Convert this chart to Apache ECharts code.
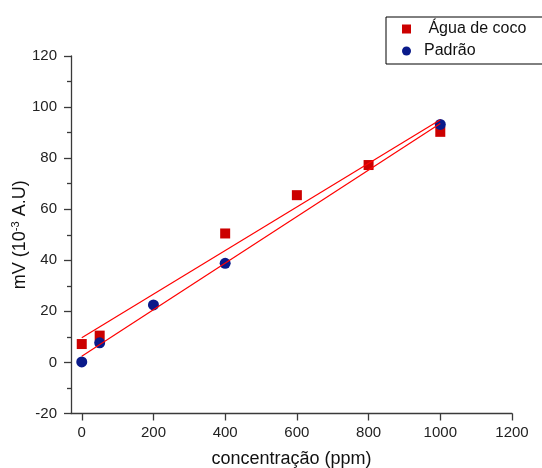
<!DOCTYPE html>
<html>
<head>
<meta charset="utf-8">
<script src="https://cdn.jsdelivr.net/npm/echarts@6/dist/echarts.min.js"></script>
<style>html,body{margin:0;padding:0;background:#fff}#c{width:542px;height:468px}</style>
</head>
<body>
<div id="c"></div>
<script>
// Data
const aguaX = [0, 50, 400, 600, 800, 1000];
const aguaY = [7.2, 10.5, 50.5, 65.5, 77.3, 90.3];
const padraoX = [0, 50, 200, 400, 1000];
const padraoY = [0.2, 7.7, 22.5, 38.8, 93.2];
const xTicks = [0, 200, 400, 600, 800, 1000, 1200];
const fitRange = [0, 1000];
const seriesNames = [' Água de coco', 'Padrão'];

function linFit(xs, ys) {
  const n = xs.length;
  const mx = xs.reduce((a, b) => a + b, 0) / n;
  const my = ys.reduce((a, b) => a + b, 0) / n;
  let sxx = 0, sxy = 0;
  for (let i = 0; i < n; i++) { sxx += (xs[i] - mx) ** 2; sxy += (xs[i] - mx) * (ys[i] - my); }
  const b = sxy / sxx, a = my - b * mx;
  return fitRange.map(x => [x, a + b * x]);
}
const zip = (xs, ys) => xs.map((x, i) => [x, ys[i]]);

const font = 'Liberation Sans, Arial, sans-serif';
const axisCol = '#3a3a3a';
const red = '#cc0000', navy = '#0a1a8a';
const chart = echarts.init(document.getElementById('c'), null, { renderer: 'canvas' });
chart.setOption({
  animation: false,
  backgroundColor: '#fff',
  grid: { left: 71, right: 30, top: 56, bottom: 54.5, outerBoundsMode: 'none', containLabel: false },
  legend: {
    data: [
      { name: seriesNames[0], icon: 'rect', itemStyle: { color: red } },
      { name: seriesNames[1], icon: 'circle', itemStyle: { color: navy } }
    ],
    orient: 'vertical',
    left: 386, top: 17,
    padding: [3, 30, 4, 16],
    itemGap: 4,
    itemWidth: 9, itemHeight: 9,
    borderColor: '#000', borderWidth: 1, borderRadius: 0,
    textStyle: { fontFamily: font, fontSize: 16, color: '#111', padding: [0, 0, 0, 8], lineHeight: 18 }
  },
  xAxis: {
    type: 'value', min: -30, max: 1200,
    name: 'concentração (ppm)', nameLocation: 'middle', nameGap: 37, nameMoveOverlap: false,
    nameTextStyle: { fontFamily: font, fontSize: 18, color: '#111' },
    axisLine: { show: true, onZero: false, lineStyle: { color: axisCol, width: 1.3 } },
    axisTick: { show: true, length: 7, customValues: xTicks, lineStyle: { color: axisCol, width: 1.3 } },
    axisLabel: { customValues: xTicks, margin: 12, fontFamily: font, fontSize: 15, color: '#222', formatter: v => String(v) },
    splitLine: { show: false }
  },
  yAxis: {
    type: 'value', min: -20, max: 120, interval: 20,
    name: '{a|mV (10}{s|-3}{a| A.U)}', nameLocation: 'middle', nameGap: 41, nameRotate: 90, nameMoveOverlap: false,
    nameTextStyle: {
      fontFamily: font, color: '#111',
      rich: {
        a: { fontFamily: font, fontSize: 18, color: '#111', lineHeight: 20 },
        s: { fontFamily: font, fontSize: 11, color: '#111', verticalAlign: 'top', lineHeight: 20, padding: [0, 0, 8, 0] }
      }
    },
    axisLine: { show: true, onZero: false, lineStyle: { color: axisCol, width: 1.3 } },
    axisTick: { show: true, length: 7, lineStyle: { color: axisCol, width: 1.3 } },
    minorTick: { show: true, splitNumber: 2, length: 4, lineStyle: { color: axisCol, width: 1.3 } },
    axisLabel: { margin: 14, fontFamily: font, fontSize: 15, color: '#222', formatter: v => String(v) },
    splitLine: { show: false }
  },
  series: [
    {
      name: seriesNames[0], type: 'scatter', symbol: 'rect', symbolSize: 10,
      itemStyle: { color: red, opacity: 1 }, data: zip(aguaX, aguaY), z: 2
    },
    {
      name: seriesNames[1], type: 'scatter', symbol: 'circle', symbolSize: 11,
      itemStyle: { color: navy, opacity: 1 }, data: zip(padraoX, padraoY), z: 3
    },
    {
      name: 'fitA', type: 'line', symbol: 'none', silent: true,
      lineStyle: { color: '#ff0000', width: 1.2 }, data: linFit(aguaX, aguaY), z: 4
    },
    {
      name: 'fitP', type: 'line', symbol: 'none', silent: true,
      lineStyle: { color: '#ff0000', width: 1.2 }, data: linFit(padraoX, padraoY), z: 4
    }
  ]
});
</script>
</body>
</html>
